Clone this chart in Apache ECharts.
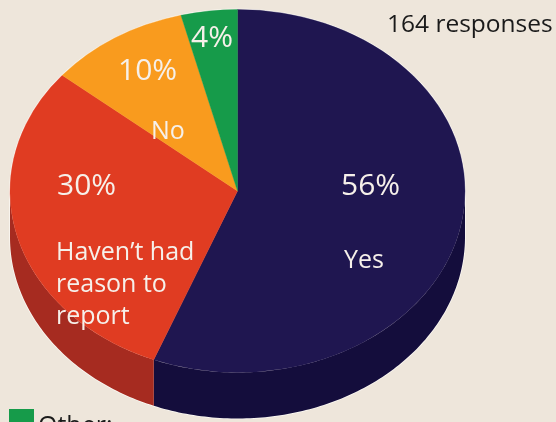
<!DOCTYPE html>
<html>
<head>
<meta charset="utf-8">
<style>html,body{margin:0;padding:0;background:#EEE6DB}#c{width:556px;height:422px}</style>
<script src="https://cdn.jsdelivr.net/npm/echarts@6/dist/echarts.min.js"></script>
</head>
<body>
<div id="c"></div>
<script>
// Survey answers, clockwise from twelve o'clock
const answers = ['Yes', 'Haven\u2019t had\nreason to\nreport', 'No', 'Other:'];
const shares = [56, 30, 10, 4];
const topColors = ['#1F1650', '#E03C22', '#F99B1E', '#169B4A'];
const sideColors = ['#140D3C', '#A62B20', '#B5701A', '#0F6E35'];
const responseNote = '164 responses';

const FONT = '"Open Sans", "Noto Sans", sans-serif';
const CX = 237.5, CY = 191, RX = 227.5, RY = 181.5, DEPTH = 46;

const total = shares.reduce((a, b) => a + b, 0);
const spans = [];
shares.reduce((acc, v) => {
  const next = acc + v;
  spans.push([acc / total * 2 * Math.PI, next / total * 2 * Math.PI]);
  return next;
}, 0);

// Clockwise angle from the top of the disc to a point on its rim
const rim = (a, dy) => [CX + RX * Math.sin(a), CY - RY * Math.cos(a) + dy];

function arcPoints(from, to, dy) {
  const pts = [];
  const n = Math.max(2, Math.ceil((to - from) * 60));
  for (let i = 0; i <= n; i++) pts.push(rim(from + (to - from) * i / n, dy));
  return pts;
}

// Front wall of the disc: only the part of a slice on the lower half shows
function renderSide(params, api) {
  const i = params.dataIndex;
  const from = Math.max(spans[i][0], Math.PI / 2);
  const to = Math.min(spans[i][1], Math.PI * 3 / 2);
  if (to <= from) return { type: 'group', children: [] };
  const pts = arcPoints(from, to, 0).concat(arcPoints(from, to, DEPTH).reverse());
  return { type: 'polygon', shape: { points: pts }, style: { fill: sideColors[i] } };
}

// Top face: a circular sector squashed vertically into an ellipse
function renderTop(params, api) {
  const i = params.dataIndex;
  return {
    type: 'sector',
    x: CX, y: CY, scaleX: 1, scaleY: RY / RX,
    shape: {
      cx: 0, cy: 0, r0: 0, r: RX,
      startAngle: spans[i][0] - Math.PI / 2,
      endAngle: spans[i][1] - Math.PI / 2,
      clockwise: true
    },
    style: { fill: topColors[i], stroke: topColors[i], lineWidth: 0.4 }
  };
}

// Thin pale edge around the whole solid
function renderHalo(params, api) {
  const lower = arcPoints(Math.PI / 2, Math.PI * 3 / 2, DEPTH);
  const upper = arcPoints(Math.PI * 3 / 2, Math.PI * 5 / 2, 0);
  return {
    type: 'polygon',
    shape: { points: lower.concat(upper) },
    style: { fill: 'none', stroke: '#FBF8F3', lineWidth: 1.6 }
  };
}

const label = (text, x, y, size) => ({
  type: 'text', x, y,
  style: {
    text, font: `${size}px ${FONT}`, fill: '#F6F0EA',
    textAlign: 'left', textVerticalAlign: 'middle', lineHeight: 32
  }
});

const chart = echarts.init(document.getElementById('c'), null, { renderer: 'canvas' });
chart.setOption({
  backgroundColor: '#EEE6DB',
  animation: false,
  series: [
    { type: 'custom', coordinateSystem: 'none', data: [0], renderItem: renderHalo, silent: true, z: 1 },
    { type: 'custom', coordinateSystem: 'none', data: shares, renderItem: renderSide, z: 2 },
    { type: 'custom', coordinateSystem: 'none', data: shares, renderItem: renderTop, z: 3 }
  ],
  graphic: [
    label(shares[0] + '%', 341, 186, 30),
    label(answers[0], 344, 261, 25),
    label(shares[1] + '%', 57, 186, 30),
    label(answers[1], 56, 285, 25),
    label(shares[2] + '%', 118, 71, 30),
    label(answers[2], 151, 132, 25),
    label(shares[3] + '%', 191, 38, 30),
    {
      type: 'text', x: 387, y: 25,
      style: { text: responseNote, font: `24.5px ${FONT}`, fill: '#1A1A1A', textVerticalAlign: 'middle' }
    },
    { type: 'rect', shape: { x: 9, y: 409, width: 25, height: 20 }, style: { fill: topColors[3] } },
    {
      type: 'text', x: 38, y: 427,
      style: { text: answers[3], font: `25px ${FONT}`, fill: '#1A1A1A', textVerticalAlign: 'middle' }
    }
  ].map(g => Object.assign({ z: 10 }, g))
});
</script>
</body>
</html>
